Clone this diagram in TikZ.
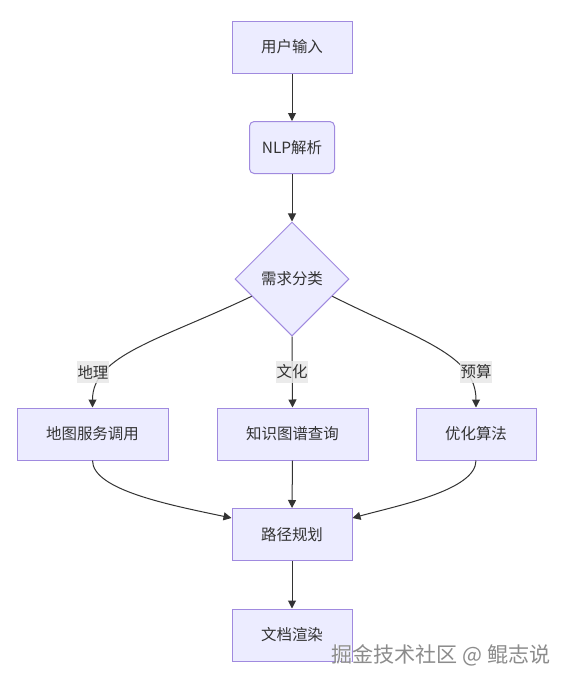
\documentclass[tikz,border=0pt]{standalone}
\usepackage{fontspec}
\setmainfont{Noto Sans CJK SC}
\usetikzlibrary{shapes.geometric,arrows.meta,calc}
\definecolor{boxfill}{HTML}{ECECFF}
\definecolor{boxline}{HTML}{A08ADF}
\definecolor{edgecol}{HTML}{333333}
\definecolor{lblfill}{HTML}{E8E8E8}
\definecolor{wmcol}{HTML}{8C8C8C}
\begin{document}
\begin{tikzpicture}[x=0.75pt,y=-0.75pt,
  font=\fontsize{11.6}{13}\selectfont,
  box/.style={draw=boxline,fill=boxfill,line width=0.75pt,minimum height=39pt,inner sep=0pt,text=edgecol},
  rbox/.style={box,rounded corners=3.5pt},
  decision/.style={diamond,draw=boxline,fill=boxfill,line width=0.75pt,minimum width=85.5pt,minimum height=85.5pt,inner sep=0pt,aspect=1,text=edgecol},
  edge/.style={draw=edgecol,line width=0.75pt,-{Triangle[length=6pt,width=6pt]}},
  lbl/.style={fill=lblfill,fill opacity=0.85,text opacity=1,inner xsep=0.3pt,inner ysep=2.8pt,text=edgecol}
]
\useasboundingbox (0,0) rectangle (570,686);
\fill[white] (0,0) rectangle (570,686);

\node[box,minimum width=90pt] (in) at (292,47) {用户输入};
\node[rbox,minimum width=63.75pt] (nlp) at (292,147.5) {NLP解析};
\node[decision] (cls) at (292,279) {需求分类};
\node[box,minimum width=113.25pt] (geo) at (92.5,434) {地图服务调用};
\node[box,minimum width=113.25pt] (kg) at (292.5,434) {知识图谱查询};
\node[box,minimum width=90pt] (opt) at (476,434) {优化算法};
\node[box,minimum width=90pt] (plan) at (292,534.5) {路径规划};
\node[box,minimum width=90pt] (doc) at (292,635) {文档渲染};

\coordinate (cl) at ($(cls.west)!0.3!(cls.south)$);
\coordinate (cr) at ($(cls.east)!0.3!(cls.south)$);

\path[edge] (in) -- (nlp);
\path[edge] (nlp) -- (cls);
\path[edge] (cl) .. controls (160,340) and (92.5,355) .. (geo.north);
\path[edge] (cls.south) -- (kg.north);
\path[edge] (cr) .. controls (420,340) and (476,355) .. (opt.north);
\path[edge] (geo.south) .. controls (92.5,490) and (170,505) .. ($(plan.west)+(0,-16.5)$);
\path[edge] (kg.south) -- (plan.north);
\path[edge] (opt.south) .. controls (476,490) and (400,505) .. ($(plan.east)+(0,-16.5)$);
\path[edge] (plan) -- (doc);

\node[lbl] (l1) at (93,372) {地理};
\node[lbl] (l2) at (292,372) {文化};
\node[lbl] (l3) at (476,372) {预算};

\node[text=white,font=\fontsize{15.8}{17}\selectfont] at (441.8,655.7) {掘金技术社区 @ 鲲志说};
\node[text=wmcol,font=\fontsize{15.8}{17}\selectfont] (wm) at (441,655) {掘金技术社区 @ 鲲志说};
\end{tikzpicture}
\end{document}
